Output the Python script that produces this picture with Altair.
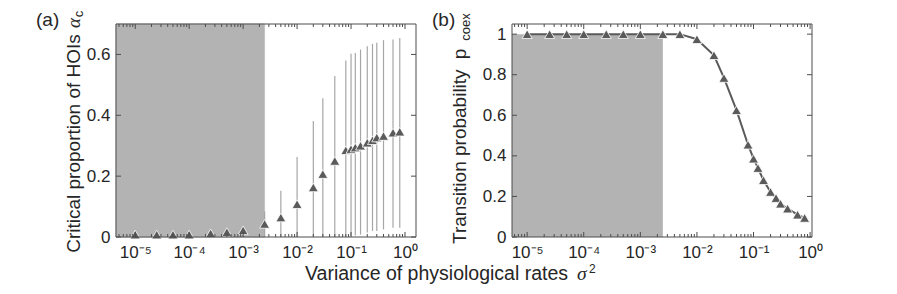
import altair as alt
import pandas as pd

FONT = "Liberation Sans"
SERIF = "Liberation Serif"
TXT = "#262626"
AXC = "#4d4d4d"
MARK = "#5a5a5a"
SHADE = "#b3b3b3"
ERR = "#a6a6a6"

# ---------------- data ----------------
sigma2 = [1e-5, 2.5e-5, 5e-5, 1e-4, 2.5e-4, 5e-4, 1e-3, 2.5e-3, 5e-3, 1e-2,
          0.02, 0.03, 0.05, 0.08, 0.1, 0.12, 0.15, 0.2, 0.25, 0.3, 0.4, 0.6, 0.8]
alpha_c = [0.008, 0.008, 0.008, 0.008, 0.012, 0.016, 0.022, 0.043, 0.064, 0.108,
           0.163, 0.207, 0.25, 0.285, 0.289, 0.294, 0.30, 0.31, 0.318, 0.327, 0.332, 0.343, 0.346]
alpha_lo = [0, 0, 0, 0, 0, 0, 0, 0, 0, 0,
            0, 0, 0, 0, 0.003, 0.005, 0.008, 0.015, 0.02, 0.02, 0.025, 0.03, 0.03]
alpha_hi = [0.012, 0.012, 0.012, 0.012, 0.02, 0.025, 0.035, 0.084, 0.152, 0.263,
            0.381, 0.456, 0.529, 0.58, 0.602, 0.605, 0.616, 0.627, 0.635, 0.638, 0.647, 0.649, 0.654]
p_coex = [1, 1, 1, 1, 1, 1, 1, 1, 1, 0.975,
          0.896, 0.784, 0.625, 0.455, 0.386, 0.34, 0.28, 0.222, 0.192, 0.164, 0.14, 0.11, 0.094]
threshold = [2.5e-3]
xlim_a = [4.4e-6, 1.6]
xlim_b = [5.4e-6, 1.08]
ylim_a = [0, 0.7]
ylim_b = [0, 1.05]
x_major = [1e-5, 1e-4, 1e-3, 1e-2, 1e-1, 1]
x_labels = ["10⁻⁵", "10⁻⁴", "10⁻³", "10⁻²", "10⁻¹", "10⁰"]
x_minor_mult = [2, 3, 4, 5, 6, 7, 8, 9]
y_ticks_a = [0, 0.2, 0.4, 0.6]
y_ticks_b = [0, 0.2, 0.4, 0.6, 0.8, 1]

W, H = 300, 213
TICK_FS = 17
TITLE_FS = 19

label_expr = "[" + ",".join("'" + s + "'" for s in x_labels) + "][round(log(datum.value)/LN10)+5]"


def x_axis():
    return alt.Axis(values=x_major, labelExpr=label_expr, ticks=False, tickSize=0, domain=False,
                    grid=False, labelFont=FONT, labelFontSize=TICK_FS, labelColor=TXT,
                    labelPadding=7, labelOverlap=False, labelFlush=False, labelBound=False,
                    title=None, zindex=1)


def y_axis(vals):
    return alt.Axis(values=vals, format=".1~f", ticks=False, tickSize=0, domain=False,
                    grid=False, labelFont=FONT, labelFontSize=TICK_FS, labelColor=TXT,
                    labelPadding=6, labelOverlap=False, labelFlush=False, labelBound=False,
                    title=None, zindex=1)


def tick_layers(xlim, xs, yvals, ys):
    minor = [m * 10 ** d for d in range(-6, 1) for m in x_minor_mult
             if xlim[0] <= m * 10 ** d <= xlim[1]]
    major = [v for v in x_major if xlim[0] <= v <= xlim[1]]
    X = lambda: alt.X("x:Q", scale=xs, axis=x_axis())
    Y = lambda: alt.Y("y:Q", scale=ys, axis=y_axis(yvals))
    layers = []
    for vals, ln in ((major, 5), (minor, 3)):
        d = pd.DataFrame({"x": vals})
        layers.append(alt.Chart(d).mark_rule(color=AXC, strokeWidth=1).encode(
            x=X(), y=alt.value(H), y2=alt.value(H - ln)))
        layers.append(alt.Chart(d).mark_rule(color=AXC, strokeWidth=1).encode(
            x=X(), y=alt.value(0), y2=alt.value(ln)))
    d = pd.DataFrame({"y": yvals})
    layers.append(alt.Chart(d).mark_rule(color=AXC, strokeWidth=1).encode(
        y=Y(), x=alt.value(0), x2=alt.value(5)))
    layers.append(alt.Chart(d).mark_rule(color=AXC, strokeWidth=1).encode(
        y=Y(), x=alt.value(W), x2=alt.value(W - 5)))
    frame = alt.Chart(pd.DataFrame({"f": [0]})).mark_rect(
        fillOpacity=0, stroke=AXC, strokeWidth=1).encode(
        x=alt.value(0), x2=alt.value(W), y=alt.value(0), y2=alt.value(H))
    layers.append(frame)
    return layers


def label(text, x, y, size=TITLE_FS, angle=0, align="left", baseline="alphabetic",
          font=FONT, style="normal"):
    return alt.Chart(pd.DataFrame({"t": [text]})).mark_text(
        align=align, baseline=baseline, angle=angle, fontSize=size, font=font,
        fontStyle=style, color=TXT).encode(x=alt.value(x), y=alt.value(y), text="t:N")


# ---------------- panel (a) ----------------
xs_a = alt.Scale(type="log", domain=xlim_a, nice=False)
ys_a = alt.Scale(domain=ylim_a, nice=False, zero=False)
dfa = pd.DataFrame({"x": sigma2, "y": alpha_c, "lo": alpha_lo, "hi": alpha_hi})
shade_a = pd.DataFrame({"x": [xlim_a[0]], "x2": threshold})

a_shade = alt.Chart(shade_a).mark_rect(color=SHADE, stroke="#c4c4c4", strokeWidth=1).encode(
    x=alt.X("x:Q", scale=xs_a, axis=x_axis()), x2="x2:Q",
    y=alt.value(0), y2=alt.value(H))
a_err = alt.Chart(dfa).mark_rule(color=ERR, strokeWidth=1.2).encode(
    x=alt.X("x:Q", scale=xs_a, axis=x_axis()),
    y=alt.Y("lo:Q", scale=ys_a, axis=y_axis(y_ticks_a)), y2="hi:Q")
a_pts = alt.Chart(dfa).mark_point(shape="triangle-up", filled=True, size=100, fill=MARK,
                                  stroke="white", strokeWidth=0.8, opacity=1).encode(
    x=alt.X("x:Q", scale=xs_a, axis=x_axis()),
    y=alt.Y("y:Q", scale=ys_a, axis=y_axis(y_ticks_a)))

a_texts = [
    label("(a)", -80, -13, baseline="top"),
    label("Critical proportion of HOIs", -36.5, 119.5, angle=270, align="center"),
    label("α", -36.5, -1, angle=270, align="center", font=SERIF, style="italic"),
    label("c", -33, -10, size=13, angle=270, align="center"),
    label("Variance of physiological rates", 189, 256, size=19.5),
    label("σ", 461, 256, size=19.5, font=SERIF, style="italic"),
    label("2", 473, 249, size=12),
]

panel_a = alt.layer(a_shade, a_err, a_pts, *tick_layers(xlim_a, xs_a, y_ticks_a, ys_a),
                    *a_texts).properties(width=W, height=H)

# ---------------- panel (b) ----------------
xs_b = alt.Scale(type="log", domain=xlim_b, nice=False)
ys_b = alt.Scale(domain=ylim_b, nice=False, zero=False)
dfb = pd.DataFrame({"x": sigma2, "y": p_coex})
shade_b = pd.DataFrame({"x": [xlim_b[0]], "x2": threshold, "y": [0], "y2": [1]})

b_shade = alt.Chart(shade_b).mark_rect(color=SHADE).encode(
    x=alt.X("x:Q", scale=xs_b, axis=x_axis()), x2="x2:Q",
    y=alt.Y("y:Q", scale=ys_b, axis=y_axis(y_ticks_b)), y2="y2:Q")
b_line = alt.Chart(dfb).mark_line(color=MARK, strokeWidth=2).encode(
    x=alt.X("x:Q", scale=xs_b, axis=x_axis()),
    y=alt.Y("y:Q", scale=ys_b, axis=y_axis(y_ticks_b)))
b_pts = alt.Chart(dfb).mark_point(shape="triangle-up", filled=True, size=100, fill=MARK,
                                  stroke="white", strokeWidth=0.8, opacity=1).encode(
    x=alt.X("x:Q", scale=xs_b, axis=x_axis()),
    y=alt.Y("y:Q", scale=ys_b, axis=y_axis(y_ticks_b)))

b_texts = [
    label("(b)", -80, -13, baseline="top"),
    label("Transition probability", -46, 220, angle=270, align="left"),
    label("p", -46, 30, angle=270, align="center"),
    label("coex", -42, 3, size=13, angle=270, align="center"),
]

panel_b = alt.layer(b_shade, b_line, b_pts, *tick_layers(xlim_b, xs_b, y_ticks_b, ys_b),
                    *b_texts).properties(width=W, height=H)

chart = alt.hconcat(panel_a, panel_b, spacing=96, bounds="flush").properties(
    padding={"left": 28, "top": 2, "right": 5, "bottom": 5}
).configure_view(strokeWidth=0)

chart.save("out.html", embed_options={"renderer": "svg", "actions": False})
